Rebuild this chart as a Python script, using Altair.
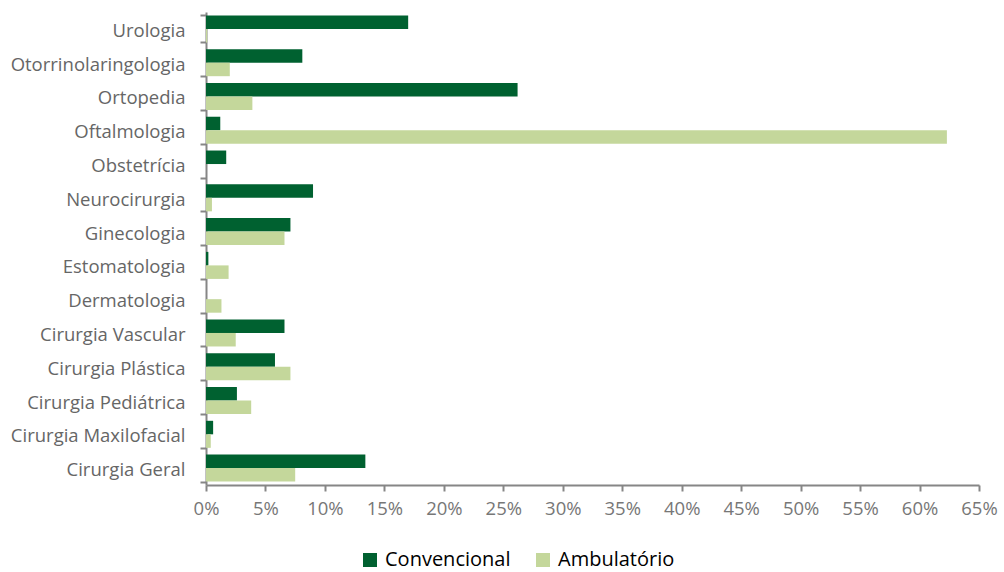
import altair as alt
import pandas as pd

specialties = [
    "Urologia", "Otorrinolaringologia", "Ortopedia", "Oftalmologia",
    "Obstetrícia", "Neurocirurgia", "Ginecologia", "Estomatologia",
    "Dermatologia", "Cirurgia Vascular", "Cirurgia Plástica",
    "Cirurgia Pediátrica", "Cirurgia Maxilofacial", "Cirurgia Geral",
]
convencional = [17.0, 8.1, 26.2, 1.2, 1.7, 9.0, 7.1, 0.2, 0.0, 6.6, 5.8, 2.6, 0.6, 13.4]
ambulatorio = [0.1, 2.0, 3.9, 62.3, 0.0, 0.5, 6.6, 1.9, 1.3, 2.5, 7.1, 3.8, 0.4, 7.5]
series = ["Convencional", "Ambulatório"]
colors = ["#006130", "#C4D79B"]

rows = []
for i, s in enumerate(specialties):
    rows.append({"esp": s, "tipo": series[0], "valor": convencional[i] / 100})
    rows.append({"esp": s, "tipo": series[1], "valor": ambulatorio[i] / 100})
df = pd.DataFrame(rows)

FONT = "Open Sans"
GREY = "#868686"

chart = alt.Chart(df).mark_bar(strokeWidth=0).encode(
    y=alt.Y(
        "esp:N", sort=specialties, title=None,
        scale=alt.Scale(paddingInner=0.2, paddingOuter=0.1),
        axis=alt.Axis(
            domainColor=GREY, domainWidth=2, tickColor=GREY, tickWidth=2,
            tickSize=6, tickBand="extent", labelPadding=15, labelOffset=1.5,
            labelFont=FONT, labelFontSize=18.5, labelColor="#666666",
        ),
    ),
    yOffset=alt.YOffset("tipo:N", sort=series),
    x=alt.X(
        "valor:Q", title=None,
        scale=alt.Scale(domain=[0, 0.65], nice=False),
        axis=alt.Axis(
            format=".0%", values=[i / 100 for i in range(0, 70, 5)],
            grid=False, domainColor=GREY, domainWidth=2, tickColor=GREY,
            tickWidth=2, tickSize=6, labelPadding=8, labelFlush=False,
            labelBound=False, labelOverlap=False,
            labelFont=FONT, labelFontSize=18.5, labelColor="#777777",
        ),
    ),
    color=alt.Color(
        "tipo:N", sort=series,
        scale=alt.Scale(domain=series, range=colors),
        legend=alt.Legend(
            title=None, orient="none", direction="horizontal",
            legendX=154, legendY=538, symbolType="square", symbolSize=196,
            symbolStrokeWidth=0, labelFont=FONT, labelFontSize=20,
            labelColor="#000000", columnPadding=22, labelOffset=5,
        ),
    ),
).properties(
    width=773, height=473,
    autosize=alt.AutoSizeParams(type="none"),
    padding={"left": 206, "top": 12, "right": 25, "bottom": 87},
).configure_view(stroke=None)

chart.save("out.html", embed_options={"renderer": "svg", "actions": False})
